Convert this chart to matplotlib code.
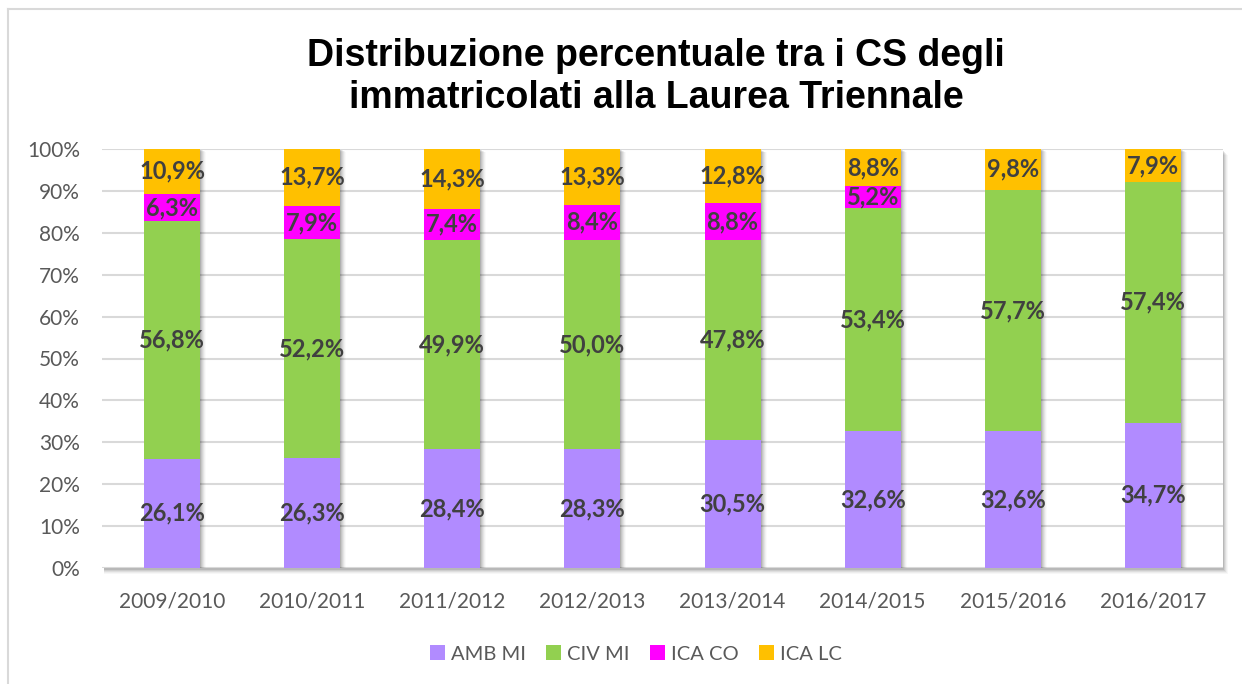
import matplotlib
matplotlib.use("Agg")
import matplotlib.pyplot as plt
import matplotlib.transforms as mtransforms
from matplotlib.patches import Rectangle
import numpy as np

years = ["2009/2010", "2010/2011", "2011/2012", "2012/2013",
         "2013/2014", "2014/2015", "2015/2016", "2016/2017"]
series_names = ["AMB MI", "CIV MI", "ICA CO", "ICA LC"]
amb_mi = [26.1, 26.3, 28.4, 28.3, 30.5, 32.6, 32.6, 34.7]
civ_mi = [56.8, 52.2, 49.9, 50.0, 47.8, 53.4, 57.7, 57.4]
ica_co = [6.3, 7.9, 7.4, 8.4, 8.8, 5.2, 0.0, 0.0]
ica_lc = [10.9, 13.7, 14.3, 13.3, 12.8, 8.8, 9.8, 7.9]
colors = ["#B18BFF", "#92D050", "#FF00FF", "#FFC000"]

title = "Distribuzione percentuale tra i CS degli\nimmatricolati alla Laurea Triennale"

W, H = 1242, 684
fig = plt.figure(figsize=(W / 100, H / 100), dpi=100)
ax_l, ax_b = 102 / W, 1 - 568 / H
ax_w, ax_h = (1223 - 102) / W, (568 - 149) / H

# plot-area shadow
for i, a in enumerate([0.10, 0.08, 0.06, 0.04, 0.03]):
    d = (i + 1) / W
    dv = (i + 1) / H
    fig.patches.append(Rectangle((ax_l + 2 / W, ax_b - dv - 1 / H), ax_w + d - 2 / W, ax_h,
                                 transform=fig.transFigure, facecolor="black",
                                 edgecolor="none", alpha=a, zorder=0))
# outer chart border (left and top visible)
fig.add_artist(plt.Line2D([8 / W, 8 / W], [0, 1 - 9 / H], transform=fig.transFigure,
                          color="#D9D9D9", lw=1.5))
fig.add_artist(plt.Line2D([8 / W, 1], [1 - 9 / H, 1 - 9 / H], transform=fig.transFigure,
                          color="#D9D9D9", lw=1.5))

ax = fig.add_axes([ax_l, ax_b, ax_w, ax_h], zorder=1)
ax.set_facecolor("white")
x = np.arange(len(years))
width = 0.4
data = [amb_mi, civ_mi, ica_co, ica_lc]
totals = np.sum(data, axis=0)

# bar shadows
for i, a in enumerate([0.10, 0.08, 0.06, 0.05, 0.035, 0.02]):
    tr = mtransforms.offset_copy(ax.transData, fig=fig, x=1 + i, y=-(1 + i * 0.4), units="dots")
    ax.bar(x, totals, width, color="black", alpha=a, transform=tr, zorder=2, linewidth=0)

bottom = np.zeros(len(years))
for vals, col, name in zip(data, colors, series_names):
    vals = np.array(vals)
    ax.bar(x, vals, width, bottom=bottom, color=col, label=name, zorder=3, linewidth=0)
    for xi, v, b in zip(x, vals, bottom):
        if v > 0:
            ax.text(xi, b + v / 2, f"{v:.1f}%".replace(".", ","), ha="center", va="center",
                    fontsize=17, fontweight="bold", color="#404040", family="Lato", zorder=4)
    bottom += vals

ax.set_xlim(-0.5, len(years) - 0.5)
ax.set_ylim(0, 100)
ax.set_yticks(np.arange(0, 101, 10))
ax.set_yticklabels([f"{v}%" for v in range(0, 101, 10)])
ax.set_xticks(x)
ax.set_xticklabels(years)
ax.grid(axis="y", color="#D9D9D9", lw=1.5, zorder=0)
ax.set_axisbelow(True)
for s in ax.spines.values():
    s.set_visible(False)
ax.tick_params(axis="both", length=0, labelsize=15, labelcolor="#595959")
ax.tick_params(axis="y", pad=16)
ax.tick_params(axis="x", pad=17)
for lab in ax.get_xticklabels() + ax.get_yticklabels():
    lab.set_family("Lato")

fig.text(656 / W, 1 - 77 / H, title, ha="center", va="center", fontsize=27,
         fontweight="bold", family="Liberation Sans", color="black", linespacing=1.25)

leg = fig.legend(loc="center", bbox_to_anchor=(636 / W, 1 - 654 / H), ncol=4, frameon=False,
                 prop={"family": "Lato", "size": 14.5}, handlelength=0.75, handleheight=0.75,
                 handletextpad=0.3, columnspacing=1.0)
for t in leg.get_texts():
    t.set_color("#595959")

fig.savefig("out.png", dpi=100)
